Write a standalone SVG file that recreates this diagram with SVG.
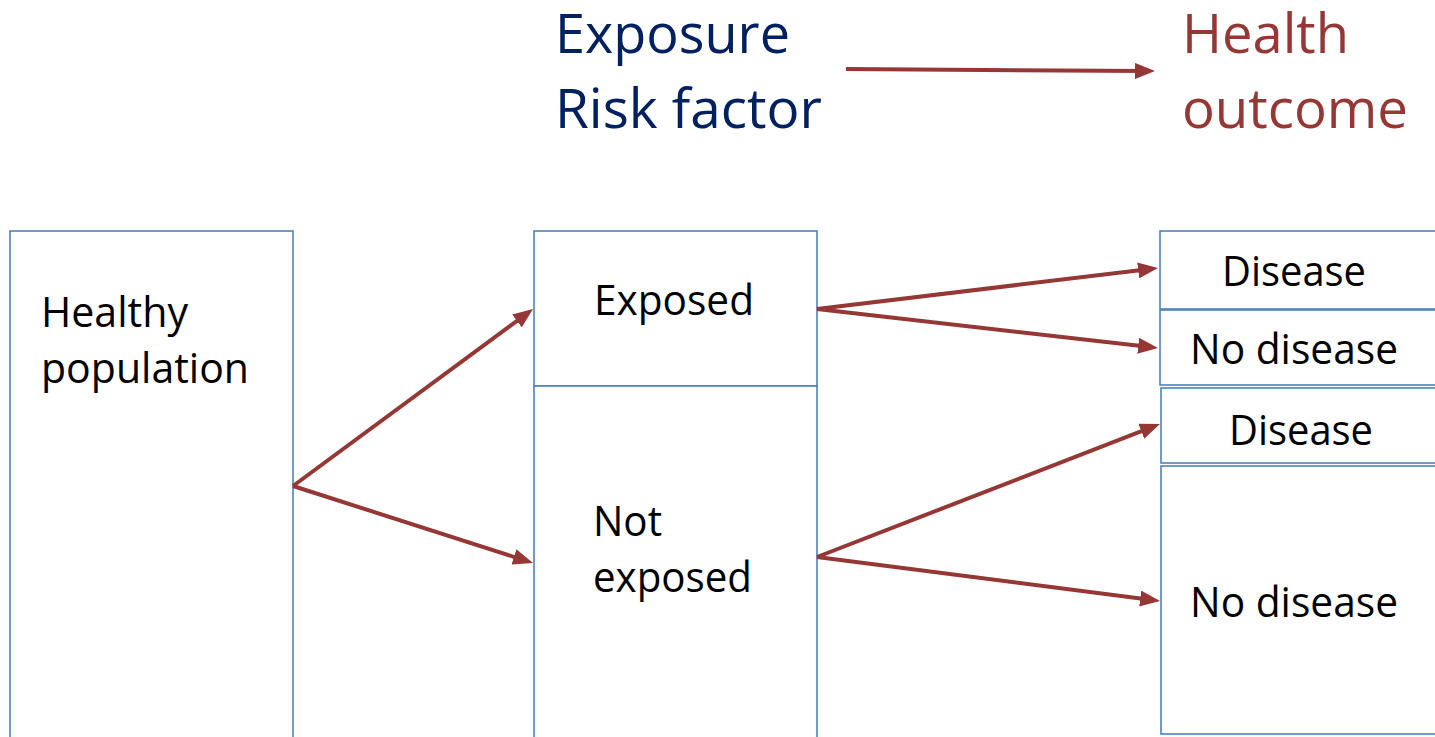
<svg xmlns="http://www.w3.org/2000/svg" width="1435" height="737" viewBox="0 0 1435 737">
<style>
.box{fill:#ffffff;stroke:#4F81BD;stroke-width:1.6}
.t{font-family:"Open Sans","Noto Sans",sans-serif;font-size:42px;fill:#000000}
.title{font-family:"Open Sans","Noto Sans",sans-serif;font-size:55px}
.conn{stroke:#953735;stroke-width:4;fill:none;marker-end:url(#ah)}
</style>
<defs>
<marker id="ah" viewBox="0 0 5 4" markerWidth="5" markerHeight="4" refX="3" refY="2" orient="auto" markerUnits="strokeWidth">
<path d="M0,0 L5,2 L0,4 z" fill="#953735"/>
</marker>
</defs>
<rect width="1435" height="737" fill="#ffffff"/>
<g id="title-exposure">
<text class="title" fill="#002060" x="555" y="53" textLength="235" lengthAdjust="spacingAndGlyphs">Exposure</text>
<text class="title" fill="#002060" x="555" y="128" textLength="267" lengthAdjust="spacingAndGlyphs">Risk factor</text>
</g>
<g id="title-outcome">
<text class="title" fill="#953735" x="1182" y="53" textLength="167" lengthAdjust="spacingAndGlyphs">Health</text>
<text class="title" fill="#953735" x="1182" y="128" textLength="226" lengthAdjust="spacingAndGlyphs">outcome</text>
</g>
<g id="healthy">
<rect class="box" x="10" y="231" width="283" height="520"/>
<text class="t" x="41" y="327" textLength="147" lengthAdjust="spacingAndGlyphs">Healthy</text>
<text class="t" x="41" y="383" textLength="208" lengthAdjust="spacingAndGlyphs">population</text>
</g>
<g id="exposed">
<rect class="box" x="534" y="231" width="283" height="155"/>
<text class="t" x="594" y="315" textLength="160" lengthAdjust="spacingAndGlyphs">Exposed</text>
</g>
<g id="not-exposed">
<rect class="box" x="534" y="386" width="283" height="365"/>
<text class="t" x="593" y="536" textLength="69" lengthAdjust="spacingAndGlyphs">Not</text>
<text class="t" x="593" y="592" textLength="159" lengthAdjust="spacingAndGlyphs">exposed</text>
</g>
<g id="disease-1">
<rect class="box" x="1160" y="231" width="290" height="78"/>
<text class="t" x="1222" y="286" textLength="144" lengthAdjust="spacingAndGlyphs">Disease</text>
</g>
<g id="no-disease-1">
<rect class="box" x="1160" y="310" width="290" height="75"/>
<text class="t" x="1190" y="364" textLength="208" lengthAdjust="spacingAndGlyphs">No disease</text>
</g>
<g id="disease-2">
<rect class="box" x="1161" y="388" width="290" height="75"/>
<text class="t" x="1229" y="445" textLength="144" lengthAdjust="spacingAndGlyphs">Disease</text>
</g>
<g id="no-disease-2">
<rect class="box" x="1161" y="466" width="290" height="268"/>
<text class="t" x="1190" y="617" textLength="208" lengthAdjust="spacingAndGlyphs">No disease</text>
</g>
<g id="connectors">
<line class="conn" x1="846" y1="69" x2="1147" y2="71"/>
<line class="conn" x1="293" y1="486" x2="526.6" y2="313.8"/>
<line class="conn" x1="293" y1="486" x2="525.4" y2="560.6"/>
<line class="conn" x1="817" y1="309" x2="1150.1" y2="269"/>
<line class="conn" x1="817" y1="309" x2="1150.1" y2="347.1"/>
<line class="conn" x1="817" y1="557" x2="1152.5" y2="426.9"/>
<line class="conn" x1="817" y1="557" x2="1152.1" y2="600"/>
</g>
</svg>
